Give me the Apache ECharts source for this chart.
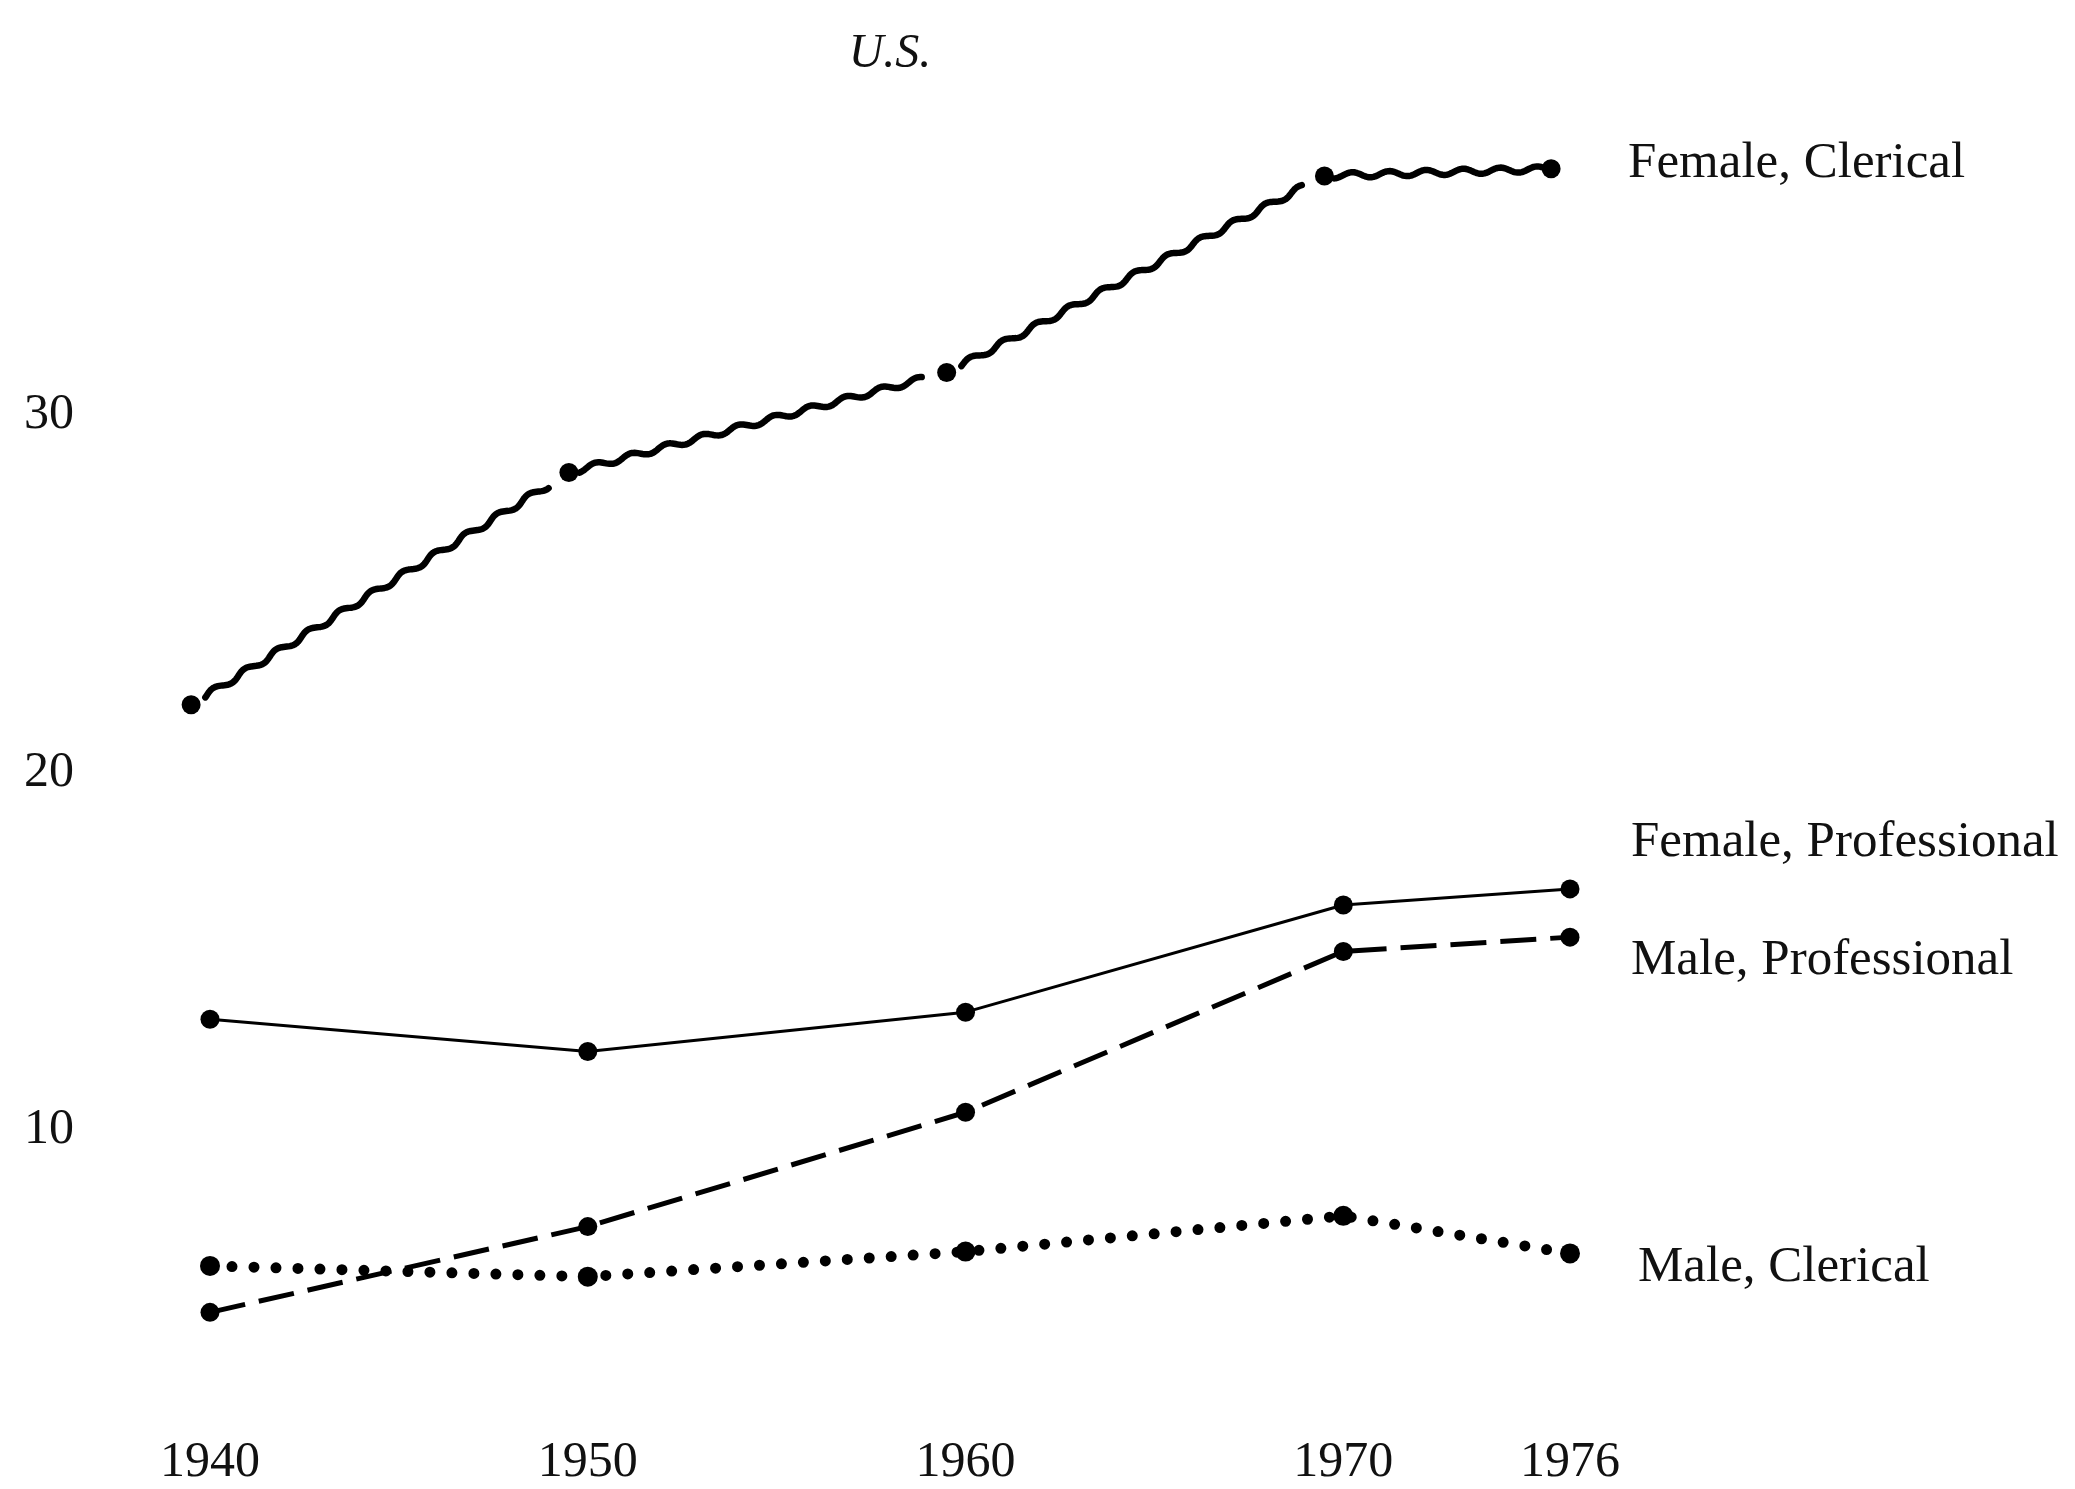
<!DOCTYPE html>
<html>
<head>
<meta charset="utf-8">
<script src="https://cdn.jsdelivr.net/npm/echarts@6/dist/echarts.min.js"></script>
<style>
html,body{margin:0;padding:0;background:#fff;}
#chart{width:2075px;height:1489px;}
</style>
</head>
<body>
<div id="chart"></div>
<script>
const years = [1940, 1950, 1960, 1970, 1976];
const femaleClerical = [21.9, 28.4, 31.2, 36.7, 36.9];
const femaleProfessional = [13.1, 12.2, 13.3, 16.3, 16.75];
const maleProfessional = [4.9, 7.3, 10.5, 15.0, 15.4];
const maleClerical = [6.2, 5.9, 6.6, 7.6, 6.55];
const xTickLabels = [1940, 1950, 1960, 1970, 1976];
const yTickLabels = [10, 20, 30];
const seriesNames = ['Female, Clerical', 'Female, Professional', 'Male, Professional', 'Male, Clerical'];
const titleText = 'U.S.';

const FONT = '"Liberation Serif", "DejaVu Serif", serif';
const INK = '#111';

function pairs(vals) { return years.map((y, i) => [y, vals[i]]); }
const fcSegments = [];
for (let i = 0; i < years.length - 1; i++) {
  fcSegments.push([years[i], femaleClerical[i], years[i + 1], femaleClerical[i + 1]]);
}

function renderWave(params, api) {
  const p0 = api.coord([api.value(0), api.value(1)]);
  const p1 = api.coord([api.value(2), api.value(3)]);
  const dx = p1[0] - p0[0], dy = p1[1] - p0[1];
  const L = Math.hypot(dx, dy);
  const ux = dx / L, uy = dy / L;
  const nx = -uy, ny = ux;
  const last = params.dataIndex === fcSegments.length - 1;
  const g0 = params.dataIndex === 0 || params.dataIndex === 2 ? 16 : 10;
  const g1 = last ? 8 : 24;
  const wl = 37, amp = 2.8;
  const pts = [];
  for (let s = g0; s <= L - g1; s += 1.5) {
    const w = amp * Math.sin(2 * Math.PI * s / wl);
    pts.push([p0[0] + ux * s + nx * w, p0[1] + uy * s + ny * w]);
  }
  return {
    type: 'polyline',
    shape: { points: pts },
    style: { stroke: '#000', lineWidth: 6.5, fill: null, lineCap: 'round', lineJoin: 'round' }
  };
}

function endLbl(text, dx, dy) {
  return {
    show: true,
    formatter: text,
    distance: 0,
    offset: [dx, dy],
    color: INK,
    fontFamily: FONT,
    fontSize: 51,
    align: 'left',
    verticalAlign: 'middle'
  };
}

const chart = echarts.init(document.getElementById('chart'), null, { renderer: 'canvas' });
chart.setOption({
  animation: false,
  backgroundColor: '#fff',
  title: {
    text: titleText,
    left: 885,
    top: 25,
    textAlign: 'center',
    textStyle: { fontFamily: FONT, fontStyle: 'italic', fontWeight: 'normal', fontSize: 48, color: INK }
  },
  grid: { left: 210, right: 505, top: 58, bottom: 73, containLabel: false },
  xAxis: [
    {
      type: 'value', min: 1940, max: 1976,
      axisLine: { show: false }, axisTick: { show: false }, splitLine: { show: false },
      axisLabel: {
        customValues: xTickLabels,
        formatter: v => String(v),
        margin: 22,
        color: INK, fontFamily: FONT, fontSize: 50
      }
    },
    {
      type: 'value', min: 1940.5, max: 1976.5, show: false,
      axisLine: { show: false }, axisTick: { show: false }, splitLine: { show: false }
    }
  ],
  yAxis: {
    type: 'value', min: 2, max: 40,
    axisLine: { show: false }, axisTick: { show: false }, splitLine: { show: false },
    axisLabel: {
      customValues: yTickLabels,
      formatter: v => String(v),
      align: 'right',
      margin: 136,
      color: INK, fontFamily: FONT, fontSize: 50
    }
  },
  series: [
    {
      name: seriesNames[0] + ' wave',
      type: 'custom',
      xAxisIndex: 1,
      clip: false,
      encode: { x: [0, 2], y: [1, 3] },
      renderItem: renderWave,
      data: fcSegments,
      silent: true
    },
    {
      name: seriesNames[0],
      type: 'line',
      xAxisIndex: 1,
      clip: false,
      data: pairs(femaleClerical),
      symbol: 'circle', symbolSize: 19,
      itemStyle: { color: '#000' },
      lineStyle: { opacity: 0, width: 0 },
      endLabel: endLbl(seriesNames[0], 77, -5)
    },
    {
      name: seriesNames[1],
      type: 'line',
      clip: false,
      data: pairs(femaleProfessional),
      symbol: 'circle', symbolSize: 19,
      itemStyle: { color: '#000' },
      lineStyle: { color: '#000', width: 3, type: 'solid' },
      endLabel: endLbl(seriesNames[1], 61, -46)
    },
    {
      name: seriesNames[2],
      type: 'line',
      clip: false,
      data: pairs(maleProfessional),
      symbol: 'circle', symbolSize: 19,
      itemStyle: { color: '#000' },
      lineStyle: { color: '#000', width: 5, type: [36, 14] },
      endLabel: endLbl(seriesNames[2], 61, 23)
    },
    {
      name: seriesNames[3],
      type: 'line',
      clip: false,
      data: pairs(maleClerical),
      symbol: 'circle', symbolSize: 20,
      itemStyle: { color: '#000' },
      lineStyle: { color: '#000', width: 11, type: [0, 22], cap: 'round' },
      endLabel: endLbl(seriesNames[3], 68, 14)
    }
  ]
});
</script>
</body>
</html>
